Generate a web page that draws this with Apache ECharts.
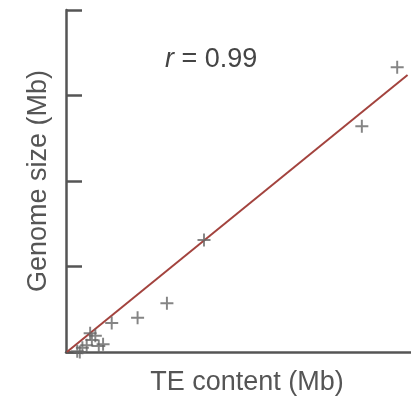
<!DOCTYPE html>
<html lang="en">
<head>
    <meta charset="UTF-8">
    <title>TE content vs genome size</title>
    <style>
        html, body { margin: 0; padding: 0; background: #fff; }
        div#container { width: 411px; height: 402px; }
    </style>
</head>
<body>
    <div id="container"></div>
    <script src="https://cdn.jsdelivr.net/npm/echarts@6/dist/echarts.min.js"></script>
    <script>
        // TE content (x) and genome size (y), arbitrary units
        var teContent = [3.84, 3.43, 1.60, 1.17, 0.83, 0.53, 0.38, 0.34, 0.28, 0.30, 0.24, 0.19, 0.13, 0.16, 0.43];
        var genomeSize = [3.33, 2.64, 1.31, 0.57, 0.40, 0.34, 0.07, 0.19, 0.22, 0.14, 0.08, 0.05, 0.01, 0.00, 0.09];
        // regression line end points
        var fitX = [0.01, 3.96];
        var fitY = [0.00, 3.24];
        var yTicks = [0, 1, 2, 3, 4];

        var points = teContent.map(function (x, i) { return [x, genomeSize[i]]; });
        var fitLine = fitX.map(function (x, i) { return [x, fitY[i]]; });

        var plus = 'path://M4.25,0h1.5v4.25h4.25v1.5h-4.25v4.25h-1.5v-4.25h-4.25v-1.5h4.25z';
        var axisColor = '#555';
        var font = 'Liberation Sans, Arial, sans-serif';

        var chart = echarts.init(document.getElementById('container'));
        var options = {
            animation: false,
            grid: { left: 66, right: 0, top: 10, bottom: 50 },
            xAxis: {
                type: 'value',
                min: 0,
                max: 4,
                name: 'TE content (Mb)',
                nameLocation: 'middle',
                nameGap: 17,
                nameTextStyle: { fontFamily: font, fontSize: 27, color: axisColor, padding: [0, 0, 0, 17] },
                axisLine: { lineStyle: { color: axisColor, width: 2.5 } },
                axisTick: { show: false },
                axisLabel: { show: false },
                splitLine: { show: false }
            },
            yAxis: {
                type: 'value',
                min: yTicks[0],
                max: yTicks[yTicks.length - 1],
                interval: 1,
                name: 'Genome size (Mb)',
                nameLocation: 'middle',
                nameGap: 14,
                nameTextStyle: { fontFamily: font, fontSize: 27, color: axisColor },
                axisLine: { show: true, lineStyle: { color: axisColor, width: 2.5 } },
                axisTick: { show: true, inside: true, length: 16, lineStyle: { color: axisColor, width: 2.5 } },
                axisLabel: { show: false },
                splitLine: { show: false }
            },
            graphic: [{
                type: 'text',
                left: 165,
                top: 46,
                style: {
                    text: '{i|r} = 0.99',
                    fontFamily: font,
                    fontSize: 27,
                    fill: '#444',
                    rich: { i: { fontStyle: 'italic', fontFamily: font, fontSize: 27, color: '#444' } }
                }
            }],
            series: [{
                type: 'scatter',
                data: points,
                symbol: plus,
                symbolSize: 13,
                itemStyle: { color: '#666' },
                z: 3
            }, {
                type: 'line',
                data: fitLine,
                symbol: 'none',
                lineStyle: { color: '#a3433e', width: 2 },
                z: 2
            }]
        };
        chart.setOption(options);
    </script>
</body>
</html>
